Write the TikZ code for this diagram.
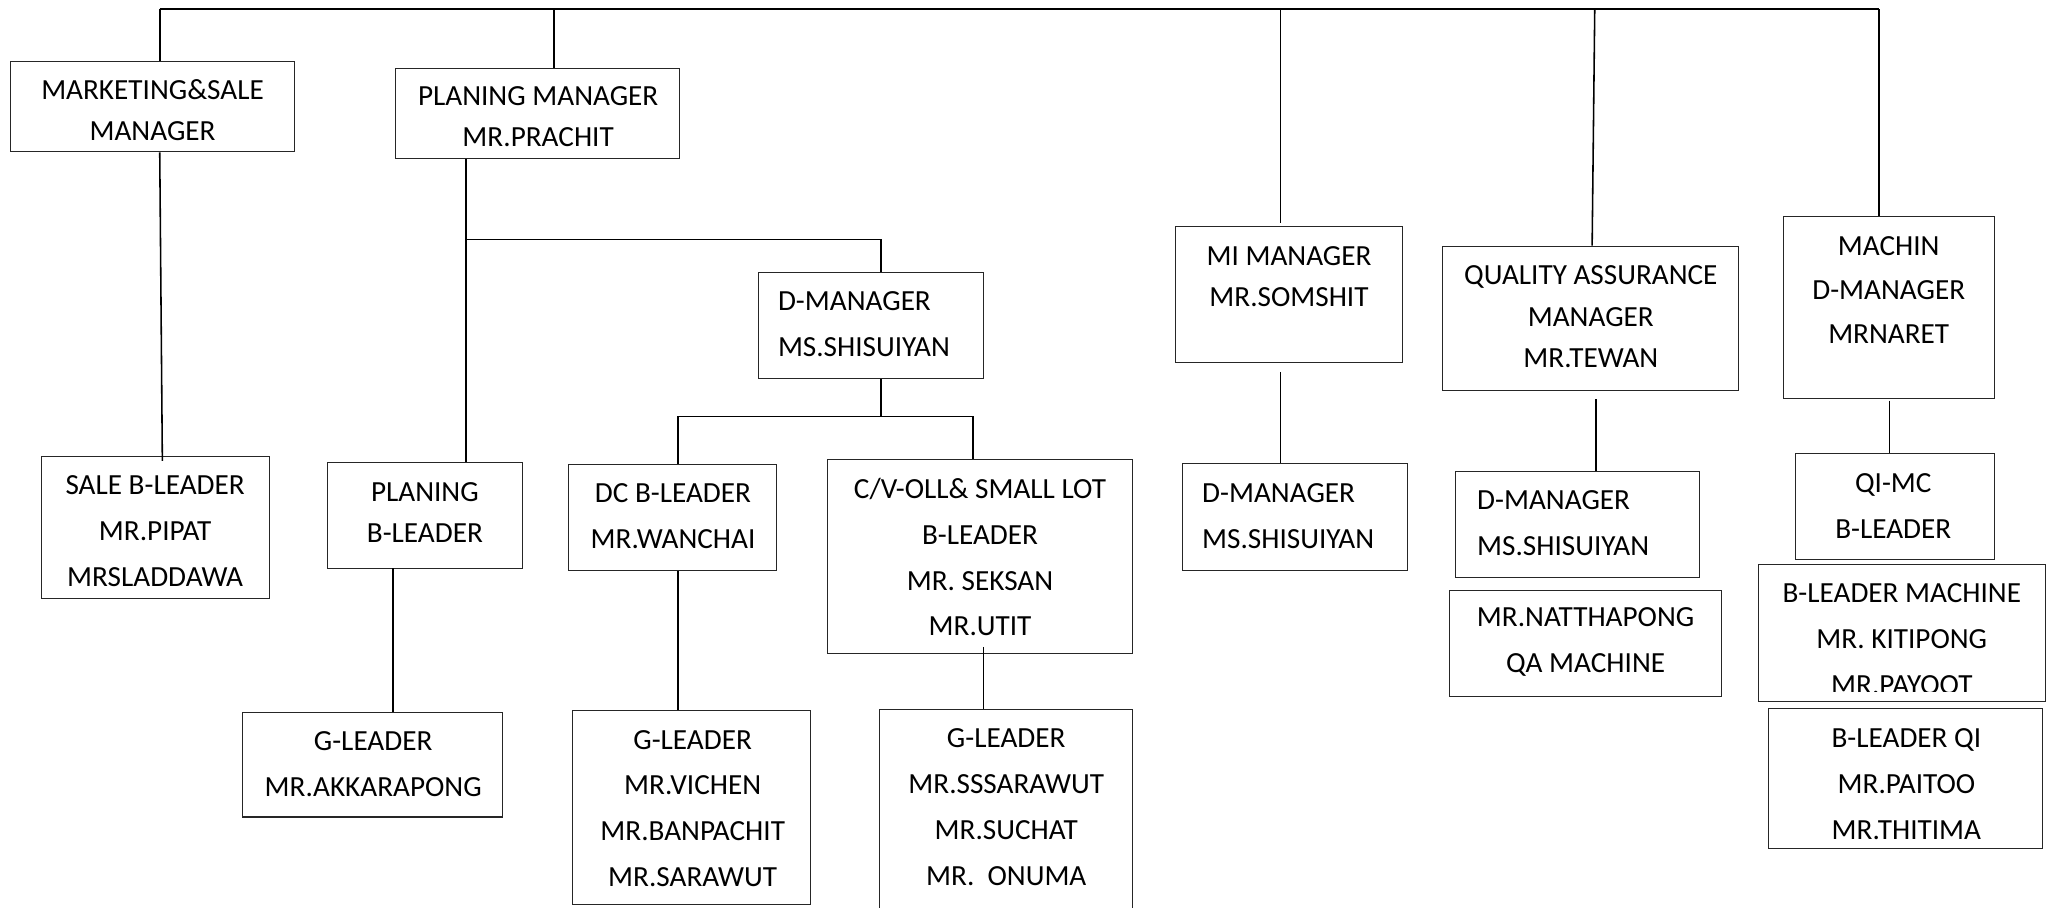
\documentclass[tikz,border=0pt]{standalone}
\usepackage{fontspec}
\setmainfont{Carlito}
\begin{document}
\begin{tikzpicture}[x=1pt,y=-1pt,
  box/.style={draw=black!85, line width=0.8pt, inner sep=0pt},
  wire/.style={draw=black, line width=1.2pt},
  txt/.style={align=center, inner sep=0pt, font=\fontsize{22.3}{35}\selectfont},
  txtn/.style={align=center, inner sep=0pt, font=\fontsize{22.3}{31.5}\selectfont},
  txtl/.style={align=left, inner sep=0pt, anchor=west, font=\fontsize{22.3}{35}\selectfont}]
\clip (0,0) rectangle (1568,693);
\fill[white] (0,0) rectangle (1568,693);

% ---- boxes ----
\node[box, minimum width=217pt, minimum height=69pt] (mkt) at (116.5,81.5) {};
\node[box, minimum width=217pt, minimum height=69pt] (pm) at (410.5,86.5) {};
\node[box, minimum width=174pt, minimum height=108pt] (sale) at (119,403) {};
\node[box, minimum width=172pt, minimum height=81pt] (dm1) at (665,248.5) {};
\node[box, minimum width=149pt, minimum height=81pt] (pbl) at (324.5,393.5) {};
\node[box, minimum width=159pt, minimum height=81pt] (dc) at (513.5,395.5) {};
\node[box, minimum width=233pt, minimum height=148pt] (cv) at (748.5,425) {};
\node[box, minimum width=199pt, minimum height=80pt] (g1) at (284.5,584) {};
\node[box, minimum width=182pt, minimum height=148pt] (g2) at (528,617) {};
\node[box, minimum width=193pt, minimum height=178pt] (g3) at (768.5,631) {};
\node[box, minimum width=173pt, minimum height=104pt] (mi) at (984.5,225) {};
\node[box, minimum width=172pt, minimum height=82pt] (dm2) at (989,395) {};
\node[box, minimum width=226pt, minimum height=110pt] (qa) at (1215,243) {};
\node[box, minimum width=186pt, minimum height=81pt] (dm3) at (1205,400.5) {};
\node[box, minimum width=208pt, minimum height=81pt] (nat) at (1211,491.5) {};
\node[box, minimum width=161pt, minimum height=139pt] (mac) at (1442.5,234.5) {};
\node[box, minimum width=152pt, minimum height=81pt] (qi) at (1447,386.5) {};
\node[box, minimum width=219pt, minimum height=105pt] (blm) at (1452.5,483.5) {};
\node[box, minimum width=209pt, minimum height=107pt] (blq) at (1455.5,594.5) {};

% ---- texts ----
\node[txtn] (mktT) at (116.5,84) {MARKETING\&SALE\\MANAGER};
\node[txtn] (pmT) at (411,89) {PLANING MANAGER\\MR.PRACHIT};
\node[txt] (saleT) at (118.5,405.5) {SALE B-LEADER\\MR.PIPAT\\MRSLADDAWA};
\node[txtl] (dm1T) at (594,247.5) {D-MANAGER\\MS.SHISUIYAN};
\node[txtn] (pblT) at (324.5,391.5) {PLANING\\B-LEADER};
\node[txt] (dcT) at (514,394.5) {DC B-LEADER\\MR.WANCHAI};
\node[txt] (cvT) at (748.5,425.5) {C/V-OLL\& SMALL LOT\\B-LEADER\\MR. SEKSAN\\MR.UTIT};
\node[txt] (g1T) at (285,583.5) {G-LEADER\\MR.AKKARAPONG};
\node[txt] (g2T) at (529,617.5) {G-LEADER\\MR.VICHEN\\MR.BANPACHIT\\MR.SARAWUT};
\node[txt] (g3T) at (768.5,616.5) {G-LEADER\\MR.SSSARAWUT\\MR.SUCHAT\\MR.\ \ ONUMA};
\node[txtn] (miT) at (984.5,211) {MI MANAGER\\MR.SOMSHIT};
\node[txtl] (dm2T) at (918,394.5) {D-MANAGER\\MS.SHISUIYAN};
\node[txtn] (qaT) at (1215,242) {QUALITY ASSURANCE\\MANAGER\\MR.TEWAN};
\node[txtl] (dm3T) at (1128,399.5) {D-MANAGER\\MS.SHISUIYAN};
\node[txt] (natT) at (1211,490.5) {MR.NATTHAPONG\\QA MACHINE};
\node[txt, font=\fontsize{22.3}{33.5}\selectfont] (macT) at (1442.5,221.5) {MACHIN\\D-MANAGER\\MRNARET};
\node[txt] (qiT) at (1446,386.5) {QI-MC\\B-LEADER};
\begin{scope}
  \clip (1343,431) rectangle (1562,528);
  \node[txt] (blmT) at (1452.5,488) {B-LEADER MACHINE\\MR. KITIPONG\\MR.PAYOOT};
\end{scope}
\node[txt] (blqT) at (1456,599) {B-LEADER QI\\MR.PAITOO\\MR.THITIMA};

% ---- connectors ----
\coordinate (b1) at (122,7);
\coordinate (b2) at (423,7);
\coordinate (b3) at (978,7);
\coordinate (b4) at (1218,7);
\coordinate (b5) at (1435,7);
\draw[wire] (b1) -- (b5);
\draw[wire] (b1) -- (b1 |- mkt.north);
\draw[wire] (b2) -- (b2 |- pm.north);
\draw[wire] (b3) -- (978,170);
\draw[wire] (b4) -- ([xshift=-2pt]b4 |- qa.north);
\draw[wire] (b5) -- (b5 |- mac.north);

\draw[wire] (mkt.south -| b1) -- ([xshift=2pt]b1 |- 0,352);

\coordinate (pA) at (356,183);
\coordinate (dA) at (673,183);
\draw[wire] (pm.south -| pA) -- (pbl.north -| pA);
\draw[wire] (pA) -- (dA) -- (dA |- dm1.north);

\coordinate (dL) at (518,318);
\coordinate (dR) at (743,318);
\draw[wire] (dA |- dm1.south) -- (673,318);
\draw[wire] (dL) -- (dR);
\draw[wire] (dL) -- (dL |- dc.north);
\draw[wire] (dR) -- (dR |- cv.north);

\coordinate (gA) at (300,434);
\draw[wire] (gA) -- (gA |- g1.north);
\draw[wire] (dc.south -| dL) -- (g2.north -| dL);
\coordinate (cA) at (751,494);
\draw[wire] (cA) -- (cA |- g3.north);

\coordinate (mA) at (978,284);
\draw[wire] (mA) -- (mA |- dm2.north);
\coordinate (qA) at (1219,305);
\draw[wire] (qA) -- (qA |- dm3.north);
\coordinate (mB) at (1443,306);
\draw[wire] (mB) -- (mB |- qi.north);
\end{tikzpicture}
\end{document}
